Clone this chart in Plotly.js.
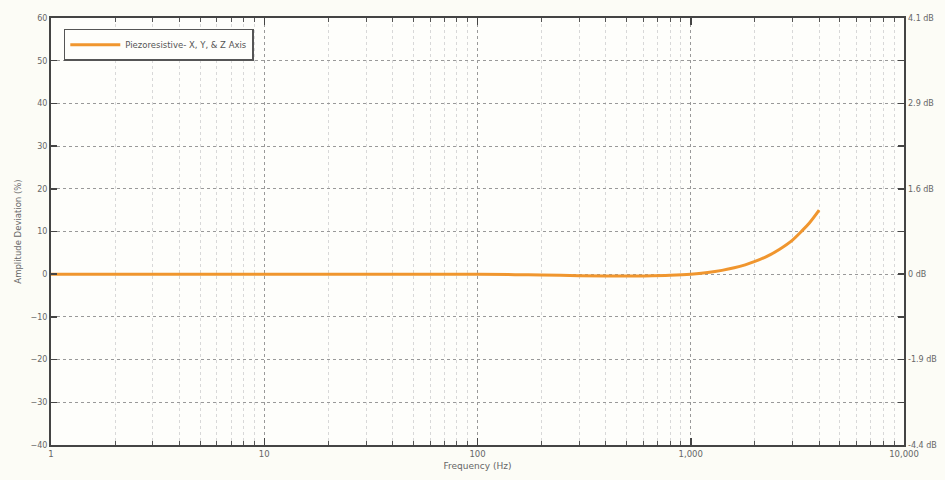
<!DOCTYPE html>
<html>
<head>
<meta charset="utf-8">
<script src="https://cdn.plot.ly/plotly-3.0.1.min.js"></script>
<style>html,body{margin:0;padding:0;background:#fcfcf6;}#chart{width:945px;height:480px;}</style>
</head>
<body>
<div id="chart"></div>
<script>
// Data
const frequencyHz = [1, 2, 5, 10, 20, 50, 100, 150, 200, 300, 400, 500, 600, 800, 1000, 1200, 1400, 1600, 1800, 2000, 2300, 2600, 3000, 3300, 3600, 4000];
const deviationPct = [0, 0, 0, 0, 0, 0, 0, -0.1, -0.2, -0.35, -0.45, -0.45, -0.4, -0.25, 0, 0.4, 0.9, 1.5, 2.2, 3.0, 4.3, 5.8, 8.0, 10.0, 12.0, 15.0];
const seriesName = 'Piezoresistive- X, Y, & Z Axis';
const xTickVals = [1, 10, 100, 1000, 10000];
const xTickText = ['1', '10', '100', '1,000', '10,000'];
const xMinorVals = [];
[1, 10, 100, 1000].forEach(d => { for (let k = 2; k <= 9; k++) xMinorVals.push(d * k); });
const yTickVals = [-40, -30, -20, -10, 0, 10, 20, 30, 40, 50, 60];
const dbTickVals = [-40, -20, 0, 20, 40, 60];
const dbTickText = ['-4.4 dB', '-1.9 dB', '0 dB', '1.6 dB', '2.9 dB', '4.1 dB'];

const fam = 'DejaVu Sans, Verdana, sans-serif';
const font = {family: fam, size: 8, color: '#666'};
const trace = {
  x: frequencyHz, y: deviationPct, type: 'scatter', mode: 'lines',
  name: seriesName, line: {color: '#f0962e', width: 3, shape: 'spline'}
};
const dummy = {x: [1], y: [0], yaxis: 'y2', type: 'scatter', mode: 'markers', marker: {opacity: 0}, showlegend: false, hoverinfo: 'skip'};

const layout = {
  width: 945, height: 480,
  margin: {l: 51, r: 41, t: 18, b: 35},
  paper_bgcolor: '#fcfcf6', plot_bgcolor: '#fefefb',
  font: font,
  showlegend: true,
  legend: {x: 0.015, y: 0.975, xanchor: 'left', yanchor: 'top', bgcolor: '#fefefb', bordercolor: '#555', borderwidth: 1.5, font: {family: fam, size: 8.5, color: '#555'}, itemwidth: 50},
  xaxis: {
    type: 'log', range: [0, 4], tickvals: xTickVals, ticktext: xTickText,
    ticks: 'inside', ticklen: 7, tickwidth: 1.5, tickcolor: '#444',
    showline: true, linecolor: '#444', linewidth: 2, mirror: 'ticks',
    showgrid: true, gridcolor: '#999', griddash: 'dot', gridwidth: 1,
    zeroline: false, tickfont: {family: fam, size: 8.5, color: '#666'},
    minor: {tickvals: xMinorVals, ticks: 'inside', ticklen: 4, tickwidth: 1, tickcolor: '#555', showgrid: true, gridcolor: '#d8d8d8', griddash: 'dot', gridwidth: 1},
    title: {text: 'Frequency (Hz)', font: {family: fam, size: 9, color: '#666'}, standoff: 4}
  },
  yaxis: {
    range: [-40, 60], tickvals: yTickVals,
    ticks: 'inside', ticklen: 6, tickwidth: 1.5, tickcolor: '#444',
    showline: true, linecolor: '#444', linewidth: 2, mirror: 'ticks',
    showgrid: true, gridcolor: '#999', griddash: 'dot', gridwidth: 1,
    zeroline: false, tickfont: {family: fam, size: 8, color: '#666'},
    title: {text: 'Amplitude Deviation (%)', font: {family: fam, size: 8.5, color: '#666'}, standoff: 8}
  },
  yaxis2: {
    overlaying: 'y', side: 'right', range: [-40, 60],
    tickvals: dbTickVals, ticktext: dbTickText, ticks: '', showgrid: false, zeroline: false,
    showline: false, tickfont: {family: fam, size: 8, color: '#666'}, ticklabelstandoff: 3
  }
};
Plotly.newPlot('chart', [trace, dummy], layout, {displayModeBar: false, staticPlot: true});
</script>
</body>
</html>
